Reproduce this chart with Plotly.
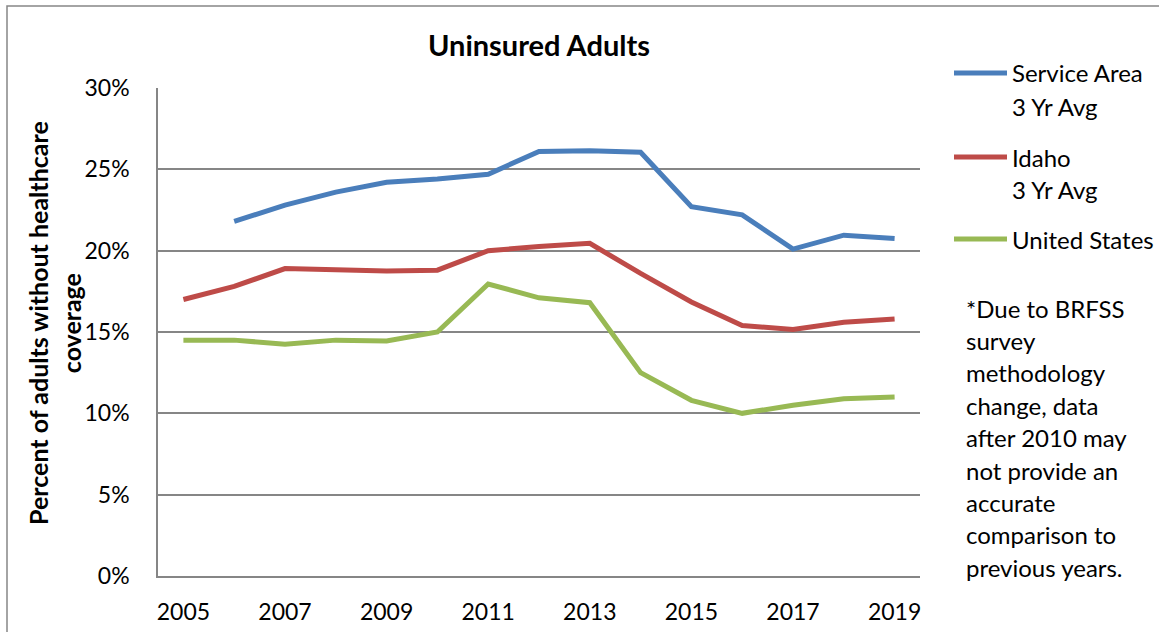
import plotly.graph_objects as go

years = list(range(2005, 2020))
service_area = [None, 21.8, 22.8, 23.6, 24.2, 24.4, 24.7, 26.1, 26.15, 26.05, 22.7, 22.2, 20.1, 20.95, 20.75]
idaho = [17.0, 17.8, 18.9, 18.8, 18.75, 18.8, 20.0, 20.25, 20.45, 18.6, 16.85, 15.4, 15.15, 15.6, 15.8]
united_states = [14.5, 14.5, 14.25, 14.5, 14.45, 15.0, 17.95, 17.1, 16.8, 12.5, 10.8, 10.0, 10.5, 10.9, 11.0]

series_names = [["Service Area", "3 Yr Avg"], ["Idaho", "3 Yr Avg"], ["United States"]]
series_colors = ["#4A7EBB", "#BE4B48", "#98B954"]
note_lines = ["*Due to BRFSS", "survey", "methodology", "change, data", "after 2010 may",
              "not provide an", "accurate", "comparison to", "previous years."]

FONT = "Lato"
W, H = 1159, 632
L, R, T, B = 158, 239, 88, 56
PW, PH = W - L - R, H - T - B


def px_x(px):
    return (px - L) / PW


def px_y(py):
    return (H - B - py) / PH


fig = go.Figure()
for name, vals, color in zip(series_names, [service_area, idaho, united_states], series_colors):
    fig.add_trace(go.Scatter(x=years, y=vals, mode="lines", name=" ".join(name),
                             line=dict(color=color, width=5), showlegend=False,
                             hoverinfo="skip"))

# hand-drawn legend, Excel style
legend_y = [73, 157, 239]
for name, color, ly in zip(series_names, series_colors, legend_y):
    fig.add_shape(type="line", xref="paper", yref="paper",
                  x0=px_x(954), x1=px_x(1007), y0=px_y(ly), y1=px_y(ly),
                  line=dict(color=color, width=5))
    for i, txt in enumerate(name):
        fig.add_annotation(text=txt, xref="paper", yref="paper", x=px_x(1010), y=px_y(ly + i * 33),
                           xanchor="left", yanchor="middle", showarrow=False,
                           font=dict(family=FONT, size=24, color="black"))

for i, txt in enumerate(note_lines):
    fig.add_annotation(text=txt, xref="paper", yref="paper", x=px_x(964), y=px_y(308 + i * 32.4),
                       xanchor="left", yanchor="middle", showarrow=False,
                       font=dict(family=FONT, size=24, color="black"))

# y-axis title (two lines)
fig.add_annotation(text="<b>Percent of adults without healthcare<br>coverage</b>", xref="paper", yref="paper",
                   x=px_x(54), y=px_y(323), xanchor="center", yanchor="middle",
                   textangle=-90, showarrow=False,
                   font=dict(family=FONT, size=25, color="black"))

# outer chart border
fig.add_shape(type="rect", xref="paper", yref="paper",
              x0=px_x(7), x1=px_x(1170), y0=px_y(6), y1=px_y(645),
              line=dict(color="#868686", width=1.5))

fig.update_layout(
    width=W, height=H,
    margin=dict(l=L, r=R, t=T, b=B),
    paper_bgcolor="white", plot_bgcolor="white",
    title=dict(text="<b>Uninsured Adults</b>", x=(L + PW / 2) / W, xanchor="center",
               y=1 - 46 / H, yanchor="middle",
               font=dict(family=FONT, size=29, color="black")),
    font=dict(family=FONT, size=23, color="black"),
    showlegend=False,
)
fig.update_xaxes(range=[2004.5, 2019.5], tickvals=list(range(2005, 2020, 2)),
                 showgrid=False, zeroline=False, showline=True, linecolor="#868686", linewidth=1.5,
                 ticks="", ticklabelstandoff=15, fixedrange=True, automargin=False)
fig.update_yaxes(range=[0, 30], dtick=5, ticksuffix="%", showgrid=True, gridcolor="#868686", gridwidth=1.5,
                 zeroline=False, showline=True, linecolor="#868686", linewidth=1.5, mirror=False,
                 ticks="", ticklabelstandoff=22, fixedrange=True, automargin=False)

fig.write_html("out.html", config={"displayModeBar": False},
               post_script="document.body.style.margin='0';")
